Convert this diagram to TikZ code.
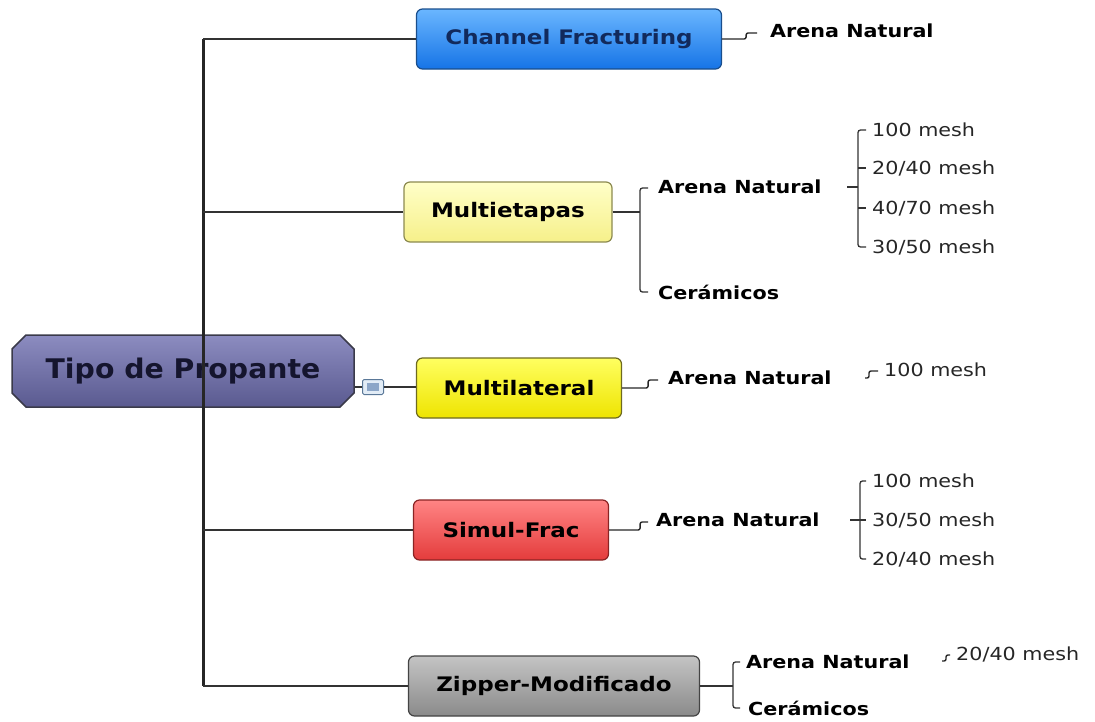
\documentclass[tikz,border=0pt]{standalone}
\usepackage{fontspec}
\setmainfont{DejaVu Sans}[FakeStretch=1.15]
\newfontfamily\rootfont{DejaVu Sans}[FakeStretch=1.05]
\usetikzlibrary{shapes.misc, calc}
\definecolor{roottop}{HTML}{8C8CC0}
\definecolor{rootmid}{HTML}{6C6CA4}
\definecolor{rootbot}{HTML}{5A5A90}
\definecolor{rootln}{HTML}{3A3A4A}
\definecolor{rootfg}{HTML}{15152E}
\definecolor{chtop}{HTML}{6AB6FF}
\definecolor{chbot}{HTML}{1674E6}
\definecolor{chln}{HTML}{1A4E8C}
\definecolor{chfg}{HTML}{122A5C}
\definecolor{metop}{HTML}{FFFFC8}
\definecolor{mebot}{HTML}{F6F08A}
\definecolor{meln}{HTML}{8C8A50}
\definecolor{mltop}{HTML}{FFFF60}
\definecolor{mlbot}{HTML}{EEE400}
\definecolor{mlln}{HTML}{6E6A20}
\definecolor{sftop}{HTML}{FF8484}
\definecolor{sfbot}{HTML}{E43C3C}
\definecolor{sfln}{HTML}{8A2424}
\definecolor{ztop}{HTML}{C4C4C4}
\definecolor{zbot}{HTML}{8A8A8A}
\definecolor{zln}{HTML}{444444}
\definecolor{btnbg}{HTML}{E2ECF6}
\definecolor{btnln}{HTML}{5A7898}
\definecolor{btnin}{HTML}{8CA6C8}

\begin{document}
\begin{tikzpicture}[x=1pt, y=-1pt,
  rootbox/.style={chamfered rectangle, chamfered rectangle xsep=7pt,
                  chamfered rectangle ysep=7pt, draw=rootln, line width=1.5pt,
                  top color=roottop, middle color=rootmid, bottom color=rootbot,
                  minimum height=72pt,
                  inner sep=0pt, font=\fontsize{27}{30}\selectfont\bfseries, text=rootfg},
  cbox/.style={rectangle, rounded corners=6pt, line width=1.2pt, minimum height=60pt,
               inner sep=0pt, font=\fontsize{20}{22}\selectfont\bfseries, text=black},
  leafb/.style={anchor=west, inner sep=0pt, font=\fontsize{18}{20}\selectfont\bfseries},
  meshl/.style={anchor=west, inner sep=0pt, font=\fontsize{18}{20}\selectfont, text=black!85},
  lnk/.style={line width=1.8pt, black!80},
  trk/.style={line width=3pt, black!85},
  stp/.style={line width=1.4pt, black!85, rounded corners=2pt},
  brk/.style={line width=1.3pt, black!80, rounded corners=2.5pt}]
  \useasboundingbox (0,0) rectangle (1095,721);

  % central topic
  \node[rootbox, minimum width=342pt] (root) at (183,371) {\rootfont Tipo de Propante};
  \node[draw=btnln, fill=btnbg, line width=1pt, minimum width=21pt, minimum height=15pt,
        inner sep=0pt, rounded corners=1.5pt] (btn) at (373,387) {};
  \node[fill=btnin, minimum width=12pt, minimum height=8pt, inner sep=0pt] (btnc) at (btn.center) {};

  % main branches
  \node[cbox, draw=chln, top color=chtop, bottom color=chbot, text=chfg,
        minimum width=305pt] (chan) at (569,39) {Channel Fracturing};
  \node[cbox, draw=meln, top color=metop, bottom color=mebot,
        minimum width=208pt] (multi) at (508,212) {Multietapas};
  \node[cbox, draw=mlln, top color=mltop, bottom color=mlbot,
        minimum width=205pt] (mlat) at (519,388) {Multilateral};
  \node[cbox, draw=sfln, top color=sftop, bottom color=sfbot,
        minimum width=195pt] (simul) at (511,530) {Simul-Frac};
  \node[cbox, draw=zln, top color=ztop, bottom color=zbot,
        minimum width=291pt] (zip) at (554,686) {Zipper-Modificado};

  \coordinate (tk) at (203,0);
  \draw[trk] (tk |- chan.west) -- (tk |- zip.west);
  \draw[lnk] (tk |- chan.west) -- (chan.west);
  \draw[lnk] (tk |- multi.west) -- (multi.west);
  \draw[lnk] (tk |- simul.west) -- (simul.west);
  \draw[lnk] (tk |- zip.west) -- (zip.west);
  \draw[lnk] (root.east |- btn) -- (btn.west);
  \draw[lnk] (btn.east) -- (btn.east -| mlat.west);

  % Channel Fracturing
  \node[leafb] (cAN) at (770,31) {Arena Natural};
  \draw[stp] (chan.east) -- ++(24,0) |- ($(cAN.west)+(-13,2)$);

  % Multietapas
  \node[leafb] (meAN) at (658,187) {Arena Natural};
  \node[leafb] (meCe) at (658,292) {Cerámicos};
  \coordinate (meB) at ($(meAN.west)+(-18,0)$);
  \draw[lnk] (multi.east) -- (multi.east -| meB);
  \draw[brk] ($(meAN.west)+(-10,1)$) -| ($(meCe.west)+(-18,0)$) -- ($(meCe.west)+(-10,0)$);

  \node[meshl] (me1) at (872,130) {100 mesh};
  \node[meshl] (me2) at (872,168) {20/40 mesh};
  \node[meshl] (me3) at (872,208) {40/70 mesh};
  \node[meshl] (me4) at (872,247) {30/50 mesh};
  \coordinate (meM) at ($(me1.west)+(-14,0)$);
  \draw[brk] ($(me1.west)+(-6,0)$) -| ($(me4.west)+(-14,0)$) -- ($(me4.west)+(-6,0)$);
  \draw[brk] (meM |- me2.west) -- ($(me2.west)+(-6,0)$);
  \draw[brk] (meM |- me3.west) -- ($(me3.west)+(-6,0)$);
  \draw[brk] ($(meM |- meAN.west)+(-11,0)$) -- (meM |- meAN.west);

  % Multilateral
  \node[leafb] (mlAN) at (668,378) {Arena Natural};
  \draw[stp] (mlat.east) -- ++(26,0) |- ($(mlAN.west)+(-10,2)$);
  \node[meshl] (ml1) at (884,370) {100 mesh};
  \coordinate (mlS) at ($(ml1.west)+(-19,0)$);
  \draw[stp] (mlS |- mlAN.west) -- ++(4,0) |- ($(ml1.west)+(-6,1)$);

  % Simul-Frac
  \node[leafb] (sfAN) at (656,520) {Arena Natural};
  \draw[stp] (simul.east) -- ++(31,0) |- ($(sfAN.west)+(-8,2)$);
  \node[meshl] (sf1) at (872,481) {100 mesh};
  \node[meshl] (sf2) at (872,520) {30/50 mesh};
  \node[meshl] (sf3) at (872,559) {20/40 mesh};
  \coordinate (sfM) at ($(sf1.west)+(-12,0)$);
  \draw[brk] ($(sf1.west)+(-6,0)$) -| ($(sf3.west)+(-12,0)$) -- ($(sf3.west)+(-6,0)$);
  \draw[brk] ($(sfM |- sf2.west)+(-10,0)$) -- ($(sf2.west)+(-6,0)$);

  % Zipper-Modificado
  \node[leafb] (zAN) at (746,662) {Arena Natural};
  \node[leafb] (zCe) at (748,708) {Cerámicos};
  \coordinate (zB) at ($(zAN.west)+(-13,0)$);
  \draw[lnk] (zip.east) -- (zip.east -| zB);
  \draw[brk] ($(zAN.west)+(-6,0)$) -| ($(zCe.west)+(-15,0)$) -- ($(zCe.west)+(-8,0)$);
  \node[meshl] (z1) at (956,654) {20/40 mesh};
  \draw[stp] ($(z1.west)+(-14,7)$) -- ++(4,0) |- ($(z1.west)+(-6,1)$);
\end{tikzpicture}
\end{document}
